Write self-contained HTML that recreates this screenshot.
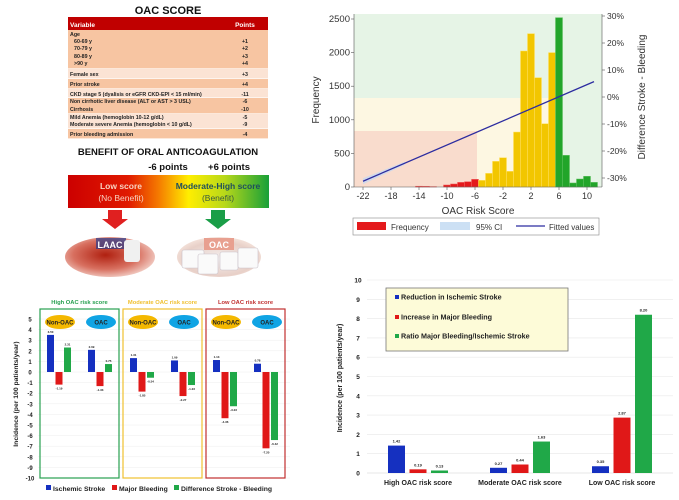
<!DOCTYPE html>
<html><head><meta charset="utf-8"><style>
body{margin:0;background:#fff;}
svg{display:block;font-family:"Liberation Sans",sans-serif;}
</style></head><body>
<svg id="s" width="679" height="500" viewBox="0 0 679 500" xmlns="http://www.w3.org/2000/svg">
<defs>
<linearGradient id="gr" x1="0" x2="1" y1="0" y2="0">
<stop offset="0" stop-color="#cc0000"/><stop offset="0.3" stop-color="#e01a00"/><stop offset="0.45" stop-color="#f57a00"/><stop offset="0.6" stop-color="#ffee00"/><stop offset="0.78" stop-color="#b8d81a"/><stop offset="1" stop-color="#18a038"/>
</linearGradient>
<radialGradient id="laac" cx="0.45" cy="0.45" r="0.6"><stop offset="0" stop-color="#b02010"/><stop offset="0.6" stop-color="#d87060"/><stop offset="1" stop-color="#f4d4cc"/></radialGradient>
<radialGradient id="oacg" cx="0.5" cy="0.55" r="0.6"><stop offset="0" stop-color="#f4f0f0"/><stop offset="0.7" stop-color="#e8d0c8"/><stop offset="1" stop-color="#f8e8e0"/></radialGradient>
</defs>
<g id="tbl"></g>
<g id="ben"></g>
<g id="hist"></g>
<g id="inc"></g>
<g id="rat"></g>
</svg>
<script>
// ---------- data ----------
const tableRows = [["Age",""],["   60-69 y","+1"],["   70-79 y","+2"],["   80-89 y","+3"],["   >90 y","+4"],["Female sex","+3"],["Prior stroke","+4"],["CKD stage 5 (dyalisis or eGFR CKD-EPI < 15 ml/min)","-11"],["Non cirrhotic liver disease (ALT or AST > 3 USL)","-6"],["Cirrhosis","-10"],["Mild Anemia (hemoglobin 10-12 g/dL)","-5"],["Moderate severe Anemia (hemoglobin < 10 g/dL)","-9"],["Prior bleeding admission","-4"]];
const histScores = [-14,-13,-12,-10,-9,-8,-7,-6,-5,-4,-3,-2,-1,0,1,2,3,4,5,6,7,8,9,10,11];
const histFreq = [12,10,6,30,45,69,79,114,99,203,382,436,233,818,2024,2282,1627,942,2000,2520,471,60,119,159,69];
const histXTicks = [-22,-18,-14,-10,-6,-2,2,6,10];
const histYTicks = [0,500,1000,1500,2000,2500];
const histRTicks = [-30,-20,-10,0,10,20,30];
const fitScores = [-22,11];
const fitDiff = [-31.2,5.7];
const incGroups = ["High OAC risk score","Moderate OAC risk score","Low OAC risk score"];
const incStroke = [[3.50,2.09],[1.31,1.09],[1.13,0.78]];
const incBleed = [[-1.19,-1.33],[-1.85,-2.27],[-4.36,-7.20]];
const incDiff = [[2.31,0.75],[-0.54,-1.23],[-3.23,-6.42]];
const incTicks = [5,4,3,2,1,0,-1,-2,-3,-4,-5,-6,-7,-8,-9,-10];
const ratCats = ["High OAC risk score","Moderate OAC risk score","Low OAC risk score"];
const ratStroke = [1.42,0.27,0.35];
const ratBleed = [0.19,0.44,2.87];
const ratRatio = [0.13,1.63,8.20];
const ratTicks = [0,1,2,3,4,5,6,7,8,9,10];

const NS="http://www.w3.org/2000/svg";
function mk(parent,tag,attrs,text){const e=document.createElementNS(NS,tag);for(const k in attrs)e.setAttribute(k,attrs[k]);if(text!==undefined)e.textContent=text;parent.appendChild(e);return e;}

// ---------- table ----------
const T=document.getElementById('tbl');
let e=mk(T,'text',{x:168,y:14,'text-anchor':'middle','font-size':11,'font-weight':'bold',fill:'#111'},'OAC SCORE');


mk(T,'rect',{x:68,y:17,width:200,height:13,fill:'#c00000'});
mk(T,'text',{x:70,y:27,'font-size':6.5,'font-weight':'bold',fill:'#fff'},'Variable');
mk(T,'text',{x:245,y:27,'font-size':6.5,'font-weight':'bold',fill:'#fff','text-anchor':'middle'},'Points');
const blocks=[[30,69,'#f7c5a2'],[69,79,'#fbe3d4'],[79,89,'#f7c5a2'],[89,98,'#fbe3d4'],[98,114,'#f7c5a2'],[114,129,'#fbe3d4'],[129,139,'#f7c5a2']];
blocks.forEach(b=>mk(T,'rect',{x:68,y:b[0],width:200,height:b[1]-b[0]-0.6,fill:b[2]}));
const rowY=[36,43,50,58,65,76,86,96,103,111,119,126,136];
tableRows.forEach((r,i)=>{
 const t=mk(T,'text',{x:r[0].startsWith(' ')?74:70,y:rowY[i],'font-size':5.3,'font-weight':'bold',fill:'#222'},r[0].trim());
 
 
 if(r[1]) mk(T,'text',{x:245,y:rowY[i],'font-size':5.3,'font-weight':'bold',fill:'#222','text-anchor':'middle'},r[1]);
});

// ---------- benefit ----------
const B=document.getElementById('ben');
mk(B,'text',{x:168,y:155,'text-anchor':'middle','font-size':9.5,'font-weight':'bold',fill:'#111'},'BENEFIT OF ORAL ANTICOAGULATION');
mk(B,'text',{x:168,y:170,'text-anchor':'middle','font-size':9.5,'font-weight':'bold',fill:'#111'},'-6 points');
mk(B,'text',{x:229,y:170,'text-anchor':'middle','font-size':9.5,'font-weight':'bold',fill:'#111'},'+6 points');
e=mk(B,'rect',{x:68,y:175,width:201,height:33,fill:'url(#gr)'});


mk(B,'text',{x:121,y:189,'text-anchor':'middle','font-size':8.5,'font-weight':'bold',fill:'#f8d2c0'},'Low score');
mk(B,'text',{x:121,y:201,'text-anchor':'middle','font-size':8.5,fill:'#f8d2c0'},'(No Benefit)');
mk(B,'text',{x:218,y:189,'text-anchor':'middle','font-size':8.5,'font-weight':'bold',fill:'#1e4e5e'},'Moderate-High score');
mk(B,'text',{x:218,y:201,'text-anchor':'middle','font-size':8.5,fill:'#3a5a40'},'(Benefit)');
mk(B,'polygon',{points:'108,210 122,210 122,219 128,219 115,229 102,219 108,219',fill:'#e02020'});
mk(B,'polygon',{points:'211,210 225,210 225,219 231,219 218,229 205,219 211,219',fill:'#1a9e48'});
mk(B,'ellipse',{cx:110,cy:257,rx:45,ry:20,fill:'url(#laac)'});
mk(B,'rect',{x:96,y:238,width:30,height:11,fill:'#2a3a8a',opacity:0.7});
mk(B,'rect',{x:124,y:240,width:16,height:22,fill:'#f0f0f0',rx:3});
mk(B,'text',{x:110,y:248,'text-anchor':'middle','font-size':9,'font-weight':'bold',fill:'#fff'},'LAAC');
mk(B,'ellipse',{cx:219,cy:257,rx:42,ry:20,fill:'url(#oacg)'});
mk(B,'rect',{x:204,y:238,width:30,height:12,fill:'#e8a090'});
[[182,250,22,18],[198,254,20,20],[220,252,18,18],[238,248,20,20]].forEach(r=>mk(B,'rect',{x:r[0],y:r[1],width:r[2],height:r[3],fill:'#fafafa',stroke:'#c8c0c8','stroke-width':0.6,rx:2}));
mk(B,'text',{x:219,y:248,'text-anchor':'middle','font-size':9,'font-weight':'bold',fill:'#fff'},'OAC');

// ---------- histogram ----------
const H=document.getElementById('hist');
const hx=v=>363+(v+22)*7, hy=v=>187-v*(168/2500), hr=v=>97-v*(81/30);
mk(H,'rect',{x:354,y:14,width:248,height:173,fill:'#e6f4e6'});
mk(H,'rect',{x:354,y:98,width:199,height:89,fill:'#fdf7e2'});
mk(H,'rect',{x:354,y:131,width:123,height:56,fill:'#f9dccd'});
histScores.forEach((s,i)=>{
 const col=s<=-6?'#e41a1c':(s<=5?'#f2c600':'#22a52a');
 const r=mk(H,'rect',{x:hx(s)-3.5,y:hy(histFreq[i]),width:7,height:187-hy(histFreq[i]),fill:col,stroke:s<=-6?'#f06060':(s<=5?'#ffe060':'#60c060'),'stroke-width':0.5});
 
 
});
mk(H,'polygon',{points:`${hx(-22)},${hr(fitDiff[0])-3} ${hx(-16)},${hr(-24.5)-1.5} ${hx(-16)},${hr(-24.5)+1.5} ${hx(-22)},${hr(fitDiff[0])+3}`,fill:'#c8d8f0',opacity:0.8});
e=mk(H,'line',{x1:hx(fitScores[0]),y1:hr(fitDiff[0]),x2:hx(fitScores[1]),y2:hr(fitDiff[1]),stroke:'#2c2ca0','stroke-width':1.3});


mk(H,'line',{x1:354,y1:187,x2:602,y2:187,stroke:'#555','stroke-width':0.6});
mk(H,'line',{x1:354,y1:14,x2:354,y2:187,stroke:'#555','stroke-width':0.6});
mk(H,'line',{x1:602,y1:14,x2:602,y2:187,stroke:'#555','stroke-width':0.6});
histXTicks.forEach(t=>{mk(H,'line',{x1:hx(t),y1:187,x2:hx(t),y2:190,stroke:'#555','stroke-width':0.6});mk(H,'text',{x:hx(t),y:199,'text-anchor':'middle','font-size':9,fill:'#333'},t);});
histYTicks.forEach(t=>{mk(H,'line',{x1:351,y1:hy(t),x2:354,y2:hy(t),stroke:'#555','stroke-width':0.6});mk(H,'text',{x:350,y:hy(t)+3,'text-anchor':'end','font-size':9.5,fill:'#333'},t);});
histRTicks.forEach(t=>{mk(H,'line',{x1:602,y1:hr(t),x2:605,y2:hr(t),stroke:'#555','stroke-width':0.6});mk(H,'text',{x:607,y:hr(t)+3,'font-size':8.5,fill:'#333'},t+'%');});
mk(H,'text',{x:478,y:214,'text-anchor':'middle','font-size':10,fill:'#333'},'OAC Risk Score');
mk(H,'text',{x:0,y:0,transform:'translate(319,100) rotate(-90)','text-anchor':'middle','font-size':10,fill:'#333'},'Frequency');
mk(H,'text',{x:0,y:0,transform:'translate(645,97) rotate(-90)','text-anchor':'middle','font-size':10,fill:'#333'},'Difference Stroke - Bleeding');
const lg=mk(H,'g',{});


mk(lg,'rect',{x:353,y:218,width:246,height:17,fill:'#fff',stroke:'#888','stroke-width':0.6});
mk(lg,'rect',{x:357,y:222,width:29,height:8,fill:'#e41a1c'});
mk(lg,'text',{x:391,y:230,'font-size':8,fill:'#333'},'Frequency');
mk(lg,'rect',{x:440,y:222,width:30,height:8,fill:'#cce0f4'});
mk(lg,'text',{x:476,y:230,'font-size':8,fill:'#333'},'95% CI');
mk(lg,'line',{x1:516,y1:226,x2:545,y2:226,stroke:'#2c2ca0','stroke-width':1.2});
mk(lg,'text',{x:549,y:230,'font-size':8,fill:'#333'},'Fitted values');

// ---------- incidence (bottom-left) ----------
const I=document.getElementById('inc');
const iy=v=>372-v*10.6;
incTicks.forEach(t=>{mk(I,'line',{x1:38,y1:iy(t),x2:290,y2:iy(t),stroke:'#eee','stroke-width':0.5});mk(I,'text',{x:30,y:iy(t)+2.5,'text-anchor':'middle','font-size':6,'font-weight':'bold',fill:'#222'},t);});
mk(I,'text',{x:0,y:0,transform:'translate(18,394) rotate(-90)','text-anchor':'middle','font-size':6.8,'font-weight':'bold',fill:'#222'},'Incidence (per 100 patients/year)');
const pCol=['#28a050','#f0c030','#c03030'], pTit=['#28a050','#f0c030','#c03030'];
const pX=[40,123,206];
incGroups.forEach((g,p)=>{
 const x0=pX[p];
 const bx=mk(I,'rect',{x:x0,y:309,width:79,height:169,fill:'none',stroke:pCol[p],'stroke-width':1.2});
 
 
 mk(I,'text',{x:x0+39.5,y:304,'text-anchor':'middle','font-size':5.8,'font-weight':'bold',fill:pTit[p]},g);
 mk(I,'ellipse',{cx:x0+20,cy:322,rx:15,ry:7,fill:'#f4b800'});
 mk(I,'text',{x:x0+20,y:324.5,'text-anchor':'middle','font-size':6,'font-weight':'bold',fill:'#222'},'Non-OAC');
 mk(I,'ellipse',{cx:x0+61,cy:322,rx:15,ry:7,fill:'#10a4e4'});
 mk(I,'text',{x:x0+61,y:324.5,'text-anchor':'middle','font-size':6,'font-weight':'bold',fill:'#222'},'OAC');
 [0,1].forEach(k=>{
  const gx=x0+7+k*41;
  [[incStroke,'#1530c0'],[incBleed,'#e01818'],[incDiff,'#20a848']].forEach((s,j)=>{
   const v=s[0][p][k];
   const y1=Math.min(iy(0),iy(v)),h=Math.abs(iy(v)-iy(0));
   const r=mk(I,'rect',{x:gx+j*8.5,y:y1,width:7,height:h,fill:s[1]});
   
   
   mk(I,'text',{x:gx+j*8.5+3.5,y:v>=0?iy(v)-2:iy(v)+5,'text-anchor':'middle','font-size':3,'font-weight':'bold',fill:'#222'},v.toFixed(2));
  });
 });
});
[['#1530c0','Ischemic Stroke',46],['#e01818','Major Bleeding',112],['#20a848','Difference Stroke - Bleeding',174]].forEach(l=>{
 mk(I,'rect',{x:l[2],y:485,width:5,height:5,fill:l[0]});
 mk(I,'text',{x:l[2]+7,y:491,'font-size':6.8,'font-weight':'bold',fill:'#222'},l[1]);
});

// ---------- ratio chart (bottom-right) ----------
const R=document.getElementById('rat');
const ry=v=>473-v*19.3;
const cx=[418,520,622];
ratTicks.forEach(t=>{mk(R,'line',{x1:367,y1:ry(t),x2:673,y2:ry(t),stroke:t?'#e8e8e8':'#d0d0d0','stroke-width':0.6});mk(R,'text',{x:358,y:ry(t)+2.5,'text-anchor':'middle','font-size':6.5,'font-weight':'bold',fill:'#222'},t);});
mk(R,'text',{x:0,y:0,transform:'translate(342,378) rotate(-90)','text-anchor':'middle','font-size':7,'font-weight':'bold',fill:'#222'},'Incidence (per 100 patients/year)');
ratCats.forEach((c,i)=>{
 [[ratStroke,'#1530c0',-21.5],[ratBleed,'#e01818',0],[ratRatio,'#20a848',21.5]].forEach(s=>{
  const v=s[0][i];
  const r=mk(R,'rect',{x:cx[i]+s[2]-8.5,y:ry(v),width:17,height:473-ry(v),fill:s[1]});
  
  
  mk(R,'text',{x:cx[i]+s[2],y:ry(v)-3,'text-anchor':'middle','font-size':4,'font-weight':'bold',fill:'#222'},v.toFixed(2));
 });
 mk(R,'text',{x:cx[i],y:485,'text-anchor':'middle','font-size':7,'font-weight':'bold',fill:'#222'},c);
});
const rl=mk(R,'g',{});


mk(rl,'rect',{x:386,y:288,width:182,height:63,fill:'#fdfbd8',stroke:'#777','stroke-width':0.8});
[['#1530c0','Reduction in Ischemic Stroke',298],['#e01818','Increase in Major Bleeding',318],['#20a848','Ratio Major Bleeding/Ischemic Stroke',337]].forEach(l=>{
 mk(rl,'rect',{x:395,y:l[2]-3,width:4,height:4,fill:l[0]});
 mk(rl,'text',{x:401,y:l[2]+1.5,'font-size':7.2,'font-weight':'bold',fill:'#222'},l[1]);
});
</script>
</body></html>
